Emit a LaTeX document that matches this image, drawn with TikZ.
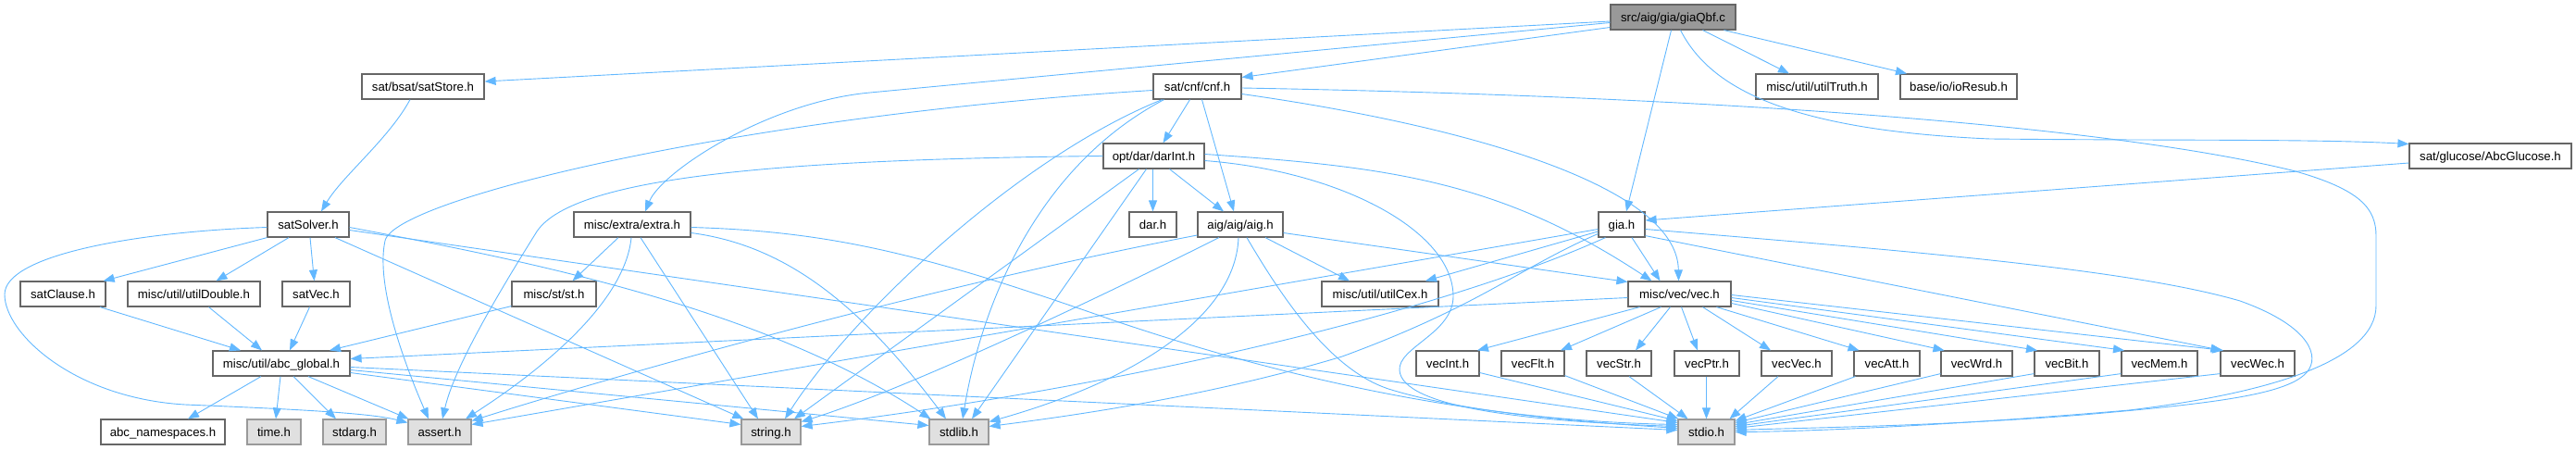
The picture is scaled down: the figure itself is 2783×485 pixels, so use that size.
\documentclass[tikz,border=0pt]{standalone}
\usepackage{fontspec}
\setmainfont{Liberation Sans}
\usetikzlibrary{arrows.meta,calc}
\definecolor{edgec}{HTML}{63B8FF}
\definecolor{nodeborder}{HTML}{666666}
\definecolor{grayborder}{HTML}{999999}
\definecolor{grayfill}{HTML}{E0E0E0}
\definecolor{rootfill}{HTML}{999999}
\begin{document}
\begin{tikzpicture}[x=1pt,y=-1pt,
  nb/.style={draw=nodeborder, fill=white, line width=1.2pt, inner sep=0pt,
    minimum height=27pt, text height=10pt, text depth=1pt,
    font=\fontsize{13.2}{15}\selectfont, text=black},
  gb/.style={nb, draw=grayborder, fill=grayfill},
  rb/.style={nb, fill=rootfill},
  e/.style={draw=edgec, line width=0.9pt, -{Triangle[length=12pt,width=9pt]}}]
\useasboundingbox (0,0) rectangle (2783,485);
% nodes
\node[rb, minimum width=135pt] (G) at (1807.5,18.5) {src/aig/gia/giaQbf.c};
\node[nb, minimum width=132pt] (SSt) at (457,93.5) {sat/bsat/satStore.h};
\node[nb, minimum width=95pt] (C) at (1293.5,93.5) {sat/cnf/cnf.h};
\node[nb, minimum width=132pt] (UT) at (1963,93.5) {misc/util/utilTruth.h};
\node[nb, minimum width=126pt] (IO) at (2116,93.5) {base/io/ioResub.h};
\node[nb, minimum width=109pt] (D) at (1246.5,168.5) {opt/dar/darInt.h};
\node[nb, minimum width=175pt] (AG) at (2690.5,168.5) {sat/glucose/AbcGlucose.h};
\node[nb, minimum width=88pt] (SS) at (333,242.5) {satSolver.h};
\node[nb, minimum width=126pt] (E) at (683,242.5) {misc/extra/extra.h};
\node[nb, minimum width=51pt] (DR) at (1245.5,242.5) {dar.h};
\node[nb, minimum width=92pt] (A) at (1340,242.5) {aig/aig/aig.h};
\node[nb, minimum width=50pt] (H) at (1752,242.5) {gia.h};
\node[nb, minimum width=92pt] (SC) at (68,317.5) {satClause.h};
\node[nb, minimum width=143pt] (UD) at (209.5,317.5) {misc/util/utilDouble.h};
\node[nb, minimum width=73pt] (SV) at (341.5,317.5) {satVec.h};
\node[nb, minimum width=91pt] (S) at (598.5,317.5) {misc/st/st.h};
\node[nb, minimum width=126pt] (UC) at (1491,317.5) {misc/util/utilCex.h};
\node[nb, minimum width=111pt] (V) at (1814.5,317.5) {misc/vec/vec.h};
\node[nb, minimum width=148pt] (AGL) at (304,392.5) {misc/util/abc\_global.h};
\node[nb, minimum width=68pt] (VI) at (1564,392.5) {vecInt.h};
\node[nb, minimum width=68pt] (VF) at (1656,392.5) {vecFlt.h};
\node[nb, minimum width=70pt] (VS) at (1749,392.5) {vecStr.h};
\node[nb, minimum width=70pt] (VP) at (1844,392.5) {vecPtr.h};
\node[nb, minimum width=76pt] (VV) at (1941,392.5) {vecVec.h};
\node[nb, minimum width=71pt] (VA) at (2038.5,392.5) {vecAtt.h};
\node[nb, minimum width=77pt] (VW) at (2135.5,392.5) {vecWrd.h};
\node[nb, minimum width=70pt] (VB) at (2233,392.5) {vecBit.h};
\node[nb, minimum width=82pt] (VM) at (2333,392.5) {vecMem.h};
\node[nb, minimum width=80pt] (VWe) at (2439,392.5) {vecWec.h};
\node[nb, minimum width=134pt] (NS) at (176,466.5) {abc\_namespaces.h};
\node[gb, minimum width=58pt] (T) at (296,466.5) {time.h};
\node[gb, minimum width=68pt] (SA) at (383,466.5) {stdarg.h};
\node[gb, minimum width=68pt] (AS) at (475,466.5) {assert.h};
\node[gb, minimum width=64pt] (ST) at (833,466.5) {string.h};
\node[gb, minimum width=64pt] (SL) at (1036,466.5) {stdlib.h};
\node[gb, minimum width=61pt] (SI) at (1843.5,466.5) {stdio.h};
% root edges
\draw[e] ($(G.west)+(0,4.5)$) -- ($(SSt.east)+(0,-5.5)$);
\draw[e] ($(G.west)+(0,11)$) -- ($(C.east)+(0,-10)$);
\draw[e] ($(G.west)+(0,6)$) -- (940,100) .. controls (830,110) and (715,185) .. ($(E.north)+(14,0)$);
\draw[e] ($(G.south)+(-2,0)$) -- ($(H.north)+(5,0)$);
\draw[e] ($(G.south)+(32,0)$) -- ($(UT.north)+(-30,0)$);
\draw[e] ($(G.south)+(55,0)$) -- ($(IO.north)+(-56,0)$);
\draw[e] ($(G.south)+(8,0)$) .. controls (1845,90) and (1920,140) .. (2150,150) .. controls (2350,152) and (2500,150) .. ($(AG.west)+(0,-13)$);
% cnf
\draw[e] ($(C.south)+(-8,0)$) -- ($(D.north)+(10,0)$);
\draw[e] ($(C.south)+(5,0)$) -- ($(A.north)+(-7,0)$);
\draw[e] ($(C.east)+(0,8)$) .. controls (1580,135) and (1812,200) .. ($(V.north)+(-1,0)$);
\draw[e] ($(C.east)+(0,1.5)$) .. controls (1900,105) and (2300,140) .. (2480,185) .. controls (2550,205) and (2567,225) .. (2567,255) -- (2567,330) .. controls (2567,390) and (2450,425) .. (2300,443) .. controls (2100,460) and (1950,466) .. (SI.east);
\draw[e] ($(C.west)+(0,4)$) .. controls (800,125) and (426,215) .. (416,260) .. controls (405,310) and (440,400) .. ($(AS.north)+(-12,0)$);
\draw[e] ($(C.south)+(-38,0)$) .. controls (1100,170) and (920,340) .. ($(ST.north)+(15,0)$);
\draw[e] ($(C.south)+(-36,0)$) .. controls (1120,180) and (1060,330) .. ($(SL.north)+(4,0)$);
% darInt
\draw[e] ($(D.south)+(-1,0)$) -- (DR.north);
\draw[e] ($(D.south)+(17,0)$) -- ($(A.north)+(-18,0)$);
\draw[e] (D.west) .. controls (850,172) and (620,190) .. (580,250) .. controls (530,330) and (490,400) .. ($(AS.north)+(3,0)$);
\draw[e] ($(D.south)+(-16,0)$) -- ($(ST.north)+(25,0)$);
\draw[e] ($(D.south)+(-8,0)$) -- ($(SL.north)+(14,0)$);
\draw[e] ($(D.east)+(0,-2)$) .. controls (1500,180) and (1620,195) .. ($(V.north)+(-30,0)$);
\draw[e] ($(D.east)+(0,5)$) .. controls (1450,185) and (1570,250) .. (1570,320) .. controls (1570,360) and (1510,375) .. (1512,400) .. controls (1515,440) and (1650,455) .. ($(SI.west)+(0,-6)$);
% aig
\draw[e] ($(A.east)+(0,9)$) -- ($(V.west)+(0,-13)$);
\draw[e] ($(A.south)+(27,0)$) -- ($(UC.north)+(-33,0)$);
\draw[e] ($(A.south)+(7,0)$) .. controls (1390,330) and (1440,400) .. (1500,420) .. controls (1580,445) and (1700,455) .. ($(SI.west)+(0,-4)$);
\draw[e] ($(A.south)+(-2,0)$) .. controls (1335,340) and (1230,410) .. ($(SL.east)+(0,-11)$);
\draw[e] ($(A.south)+(-23,0)$) .. controls (1180,325) and (980,420) .. ($(ST.east)+(0,-11)$);
\draw[e] ($(A.west)+(0,11.5)$) .. controls (1000,310) and (650,410) .. ($(AS.east)+(0,-12)$);
% gia
\draw[e] ($(AG.west)+(0,7.5)$) -- ($(H.east)+(0,-4.5)$);
\draw[e] ($(H.south)+(11,0)$) -- ($(V.north)+(-21,0)$);
\draw[e] ($(H.west)+(0,7.5)$) -- ($(UC.north)+(49,0)$);
\draw[e] ($(H.west)+(0,5)$) -- ($(AS.east)+(0,-8)$);
\draw[e] ($(H.south west)+(8,0)$) .. controls (1550,340) and (1200,420) .. ($(ST.east)+(0,-6)$);
\draw[e] ($(H.west)+(0,10)$) .. controls (1640,290) and (1600,330) .. (1450,385) .. controls (1300,430) and (1150,450) .. ($(SL.east)+(0,-6)$);
\draw[e] ($(H.east)+(0,5)$) .. controls (2050,270) and (2300,290) .. (2420,325) .. controls (2490,350) and (2505,380) .. (2495,398) .. controls (2480,425) and (2400,435) .. (2250,448) .. controls (2100,460) and (1950,462) .. ($(SI.east)+(0,-2)$);
\draw[e] ($(H.south east)+(0,-2)$) -- ($(VWe.north west)+(2,0)$);
% vec
\draw[e] ($(V.west)+(0,4)$) -- ($(AGL.east)+(0,-5)$);
\draw[e] ($(V.south)+(-43,0)$) -- ($(VI.north)+(32,0)$);
\draw[e] ($(V.south)+(-20,0)$) -- ($(VF.north)+(30,0)$);
\draw[e] ($(V.south)+(-10,0)$) -- ($(VS.north)+(18,0)$);
\draw[e] ($(V.south)+(2,0)$) -- ($(VP.north)+(-10,0)$);
\draw[e] ($(V.south)+(25,0)$) -- ($(VV.north)+(-28,0)$);
\draw[e] ($(V.south)+(40,0)$) -- ($(VA.north)+(-30,0)$);
\draw[e] ($(V.east)+(0,10)$) -- ($(VW.north)+(-35,0)$);
\draw[e] ($(V.east)+(0,7)$) -- ($(VB.north)+(-32,0)$);
\draw[e] ($(V.east)+(0,4)$) -- ($(VM.north)+(-38,0)$);
\draw[e] ($(V.east)+(0,1)$) -- ($(VWe.north)+(-37,0)$);
% vecX -> stdio
\draw[e] ($(VI.east)+(0,10)$) -- ($(SI.west)+(0,-12)$);
\draw[e] ($(VF.south east)+(0,-1)$) -- ($(SI.north west)+(1,0)$);
\draw[e] ($(VS.south)+(11,0)$) -- ($(SI.north)+(-20,0)$);
\draw[e] ($(VP.south)+(-0.5,0)$) -- (SI.north);
\draw[e] ($(VV.south)+(-20,0)$) -- ($(SI.north)+(25,0)$);
\draw[e] ($(VA.south west)+(2,0)$) -- ($(SI.east)+(0,-12)$);
\draw[e] ($(VW.south west)+(0,-3)$) -- ($(SI.east)+(0,-10)$);
\draw[e] ($(VB.south west)+(0,-3)$) -- ($(SI.east)+(0,-8)$);
\draw[e] ($(VM.south west)+(0,-3)$) -- ($(SI.east)+(0,-6)$);
\draw[e] ($(VWe.south west)+(0,-3)$) -- ($(SI.east)+(0,-4)$);
% satStore / satSolver
\draw[e] ($(SSt.south)+(-14,0)$) .. controls (420,150) and (370,190) .. ($(SS.north)+(14,0)$);
\draw[e] (SS.south west) -- ($(SC.north east)+(-3,0)$);
\draw[e] ($(SS.south)+(-21,0)$) -- ($(UD.north)+(24,0)$);
\draw[e] ($(SS.south)+(2,0)$) -- ($(SV.north)+(-2,0)$);
\draw[e] ($(SS.south)+(29,0)$) -- ($(ST.north west)+(3,0)$);
\draw[e] ($(SS.east)+(0,3)$) .. controls (560,280) and (820,330) .. ($(SL.north west)+(2,0)$);
\draw[e] ($(SS.east)+(0,6)$) -- ($(SI.west)+(0,-10)$);
\draw[e] ($(SS.west)+(0,3)$) .. controls (150,250) and (5,275) .. (5,318) .. controls (5,360) and (80,430) .. (200,437) .. controls (320,442) and (400,446) .. ($(AS.west)+(0,-10)$);
% abc_global
\draw[e] ($(AGL.south)+(-22,0)$) -- ($(NS.north)+(27,0)$);
\draw[e] ($(AGL.south)+(-1,0)$) -- ($(T.north)+(2,0)$);
\draw[e] ($(AGL.south)+(13,0)$) -- ($(SA.north)+(-20,0)$);
\draw[e] ($(AGL.south)+(29,0)$) -- ($(AS.north west)+(1,0)$);
\draw[e] ($(AGL.east)+(0,10)$) -- ($(ST.west)+(0,-8)$);
\draw[e] ($(AGL.east)+(0,7)$) -- ($(SL.west)+(0,-7)$);
\draw[e] ($(AGL.east)+(0,4)$) -- ($(SI.west)+(0,-2)$);
\draw[e] ($(SC.south)+(40,0)$) -- ($(AGL.north)+(-44,0)$);
\draw[e] ($(UD.south)+(16,0)$) -- ($(AGL.north)+(-21,0)$);
\draw[e] ($(SV.south)+(-7,0)$) -- ($(AGL.north)+(9,0)$);
\draw[e] ($(S.south west)+(0,-1)$) -- ($(AGL.north)+(52,0)$);
% extra
\draw[e] ($(E.south)+(-15,0)$) -- ($(S.north)+(20,0)$);
\draw[e] ($(E.south)+(-1,0)$) .. controls (676,320) and (600,390) .. ($(AS.north)+(28,0)$);
\draw[e] ($(E.south)+(9,0)$) -- ($(ST.north)+(-14,0)$);
\draw[e] ($(E.east)+(0,9)$) .. controls (850,265) and (930,330) .. ($(SL.north)+(-14,0)$);
\draw[e] ($(E.east)+(0,3)$) .. controls (900,250) and (1000,275) .. (1200,345) .. controls (1450,430) and (1650,455) .. ($(SI.west)+(0,-8)$);
\end{tikzpicture}
\end{document}
